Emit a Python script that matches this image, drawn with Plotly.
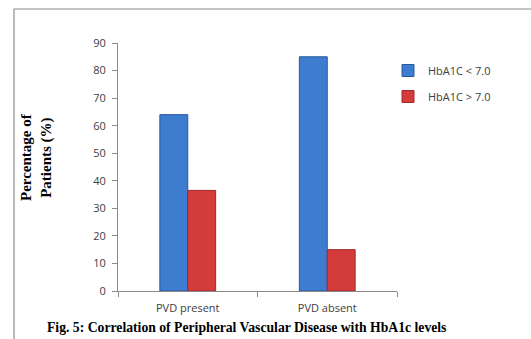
import plotly.graph_objects as go

categories = ["PVD present", "PVD absent"]
series_names = ["HbA1C < 7.0", "HbA1C > 7.0"]
low_values = [64, 85]
high_values = [36.5, 15]
y_ticks = [0, 10, 20, 30, 40, 50, 60, 70, 80, 90]

W, H = 531, 339
L, R, T, B = 118, 134, 43, 48
pw, ph = W - L - R, H - T - B

def px(x):
    return (x - L) / pw

def py(y):
    return (H - B - y) / ph

fig = go.Figure()
fig.add_trace(go.Bar(x=categories, y=low_values, name=series_names[0],
                     marker=dict(color="#3d7ccf", line=dict(color="#2a5a9e", width=1)),
                     legendgroup="a"))
fig.add_trace(go.Bar(x=categories, y=high_values, name=series_names[1],
                     marker=dict(color="#d43c3c", line=dict(color="#9e2a2a", width=1)),
                     legendgroup="b"))

fig.update_layout(
    width=W, height=H,
    margin=dict(l=L, r=R, t=T, b=B),
    paper_bgcolor="white", plot_bgcolor="white",
    barmode="group", bargap=0.6, bargroupgap=0,
    font=dict(family="Open Sans, DejaVu Sans, sans-serif", size=11, color="#404040"),
    legend=dict(x=px(388), y=py(56), xanchor="left", yanchor="top",
                font=dict(size=11, color="#404040"), tracegroupgap=7,
                itemwidth=30, bgcolor="rgba(0,0,0,0)"),
    xaxis=dict(showline=True, linecolor="#8a8a8a", linewidth=1,
               ticks="outside", tickson="boundaries", ticklen=5, tickcolor="#8a8a8a",
               ticklabelstandoff=7,
               tickfont=dict(size=11, color="#404040"), showgrid=False),
    yaxis=dict(range=[0, 90], tickvals=y_ticks, showline=True, linecolor="#8a8a8a",
               linewidth=1, ticks="outside", ticklen=5, tickcolor="#8a8a8a",
               ticklabelstandoff=4,
               showgrid=False, zeroline=False,
               tickfont=dict(size=11, color="#404040")),
    shapes=[dict(type="rect", xref="paper", yref="paper",
                 x0=px(14), x1=px(540), y0=py(348), y1=py(9),
                 line=dict(color="#8c8c8c", width=1.2), layer="below")],
)

fig.add_annotation(text="<b>Percentage of<br>Patients (%)</b>", xref="paper", yref="paper",
                   x=px(36), y=py(157), xanchor="center", yanchor="middle",
                   textangle=-90, showarrow=False,
                   font=dict(family="Liberation Serif, serif", size=15, color="black"))
fig.add_annotation(text="<b>Fig. 5: Correlation of Peripheral Vascular Disease with HbA1c levels</b>",
                   xref="paper", yref="paper", x=px(246), y=py(327),
                   xanchor="center", yanchor="middle", showarrow=False,
                   font=dict(family="Liberation Serif, serif", size=13.7, color="black"))

fig.write_html("out.html")
